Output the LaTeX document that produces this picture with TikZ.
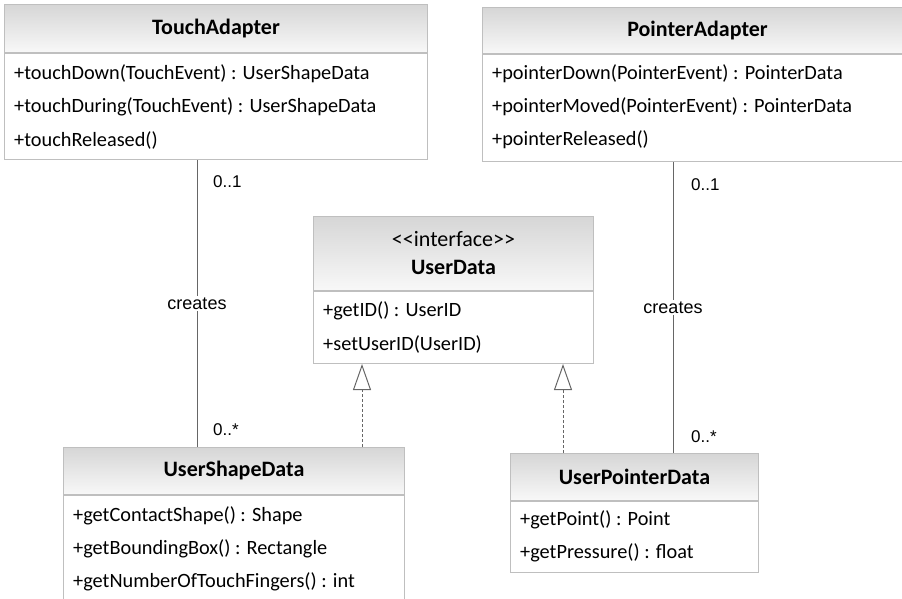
\documentclass[tikz,border=0pt]{standalone}
\usepackage{fontspec}
\setmainfont{Carlito}
\newfontfamily\labelfont{Liberation Sans}
\usetikzlibrary{positioning,arrows.meta,calc}

\definecolor{boxline}{HTML}{BFBFBF}
\definecolor{headtop}{HTML}{D6D6D6}
\definecolor{headbot}{HTML}{F8F8F8}

\tikzset{
  classhead/.style={draw=boxline, line width=1pt, top color=headtop, bottom color=headbot,
    anchor=north west, inner sep=0pt, align=center, font=\bfseries\fontsize{22}{28}\selectfont},
  classbody/.style={draw=boxline, line width=1pt, fill=white, anchor=north west, inner sep=0pt},
  method/.style={anchor=west, inner sep=0pt, font=\fontsize{20.3}{24}\selectfont},
  assoc/.style={draw=black!60, line width=1pt},
  realize/.style={draw=black!60, line width=1pt, dash pattern=on 3pt off 2pt,
    -{Triangle[open,length=26pt,width=18pt,line width=1pt]}},
  mult/.style={anchor=west, inner sep=0pt, font=\labelfont\fontsize{17}{20}\selectfont},
  creates/.style={fill=white, inner sep=2pt, font=\labelfont\fontsize{18}{20}\selectfont},
}

\begin{document}
\begin{tikzpicture}[x=1pt, y=-1pt]
\clip (0,0) rectangle (902,598);

% adapters
\node[classhead, minimum width=423pt, minimum height=48pt] (ta) at (4,4) {TouchAdapter};
\node[classbody, minimum width=423pt, minimum height=106pt] (ta-b) at (ta.south west) {};
\foreach \m [count=\i] in {{+touchDown(TouchEvent) : UserShapeData},
    {+touchDuring(TouchEvent) : UserShapeData}, {+touchReleased()}}
  \node[method] (ta-m\i) at ($(ta-b.north west)+(10,{21+33*(\i-1)})$) {\m};

\node[classhead, minimum width=430pt, minimum height=46pt] (pa) at (482,7) {PointerAdapter};
\node[classbody, minimum width=430pt, minimum height=107pt] (pa-b) at (pa.south west) {};
\foreach \m [count=\i] in {{+pointerDown(PointerEvent) : PointerData},
    {+pointerMoved(PointerEvent) : PointerData}, {+pointerReleased()}}
  \node[method] (pa-m\i) at ($(pa-b.north west)+(10,{20+33*(\i-1)})$) {\m};

% interface
\node[classhead, minimum width=280pt, minimum height=74pt] (ud) at (313,216)
  {{\mdseries <\kern0pt<interface>\kern0pt>}\\UserData};
\node[classbody, minimum width=280pt, minimum height=72pt] (ud-b) at (ud.south west) {};
\foreach \m [count=\i] in {{+getID() : UserID}, {+setUserID(UserID)}}
  \node[method] (ud-m\i) at ($(ud-b.north west)+(10,{20+33*(\i-1)})$) {\m};

% data classes
\node[classhead, minimum width=341pt, minimum height=47pt] (usd) at (63,447) {UserShapeData};
\node[classbody, minimum width=341pt, minimum height=130pt] (usd-b) at (usd.south west) {};
\foreach \m [count=\i] in {{+getContactShape() : Shape}, {+getBoundingBox() : Rectangle},
    {+getNumberOfTouchFingers() : int}}
  \node[method] (usd-m\i) at ($(usd-b.north west)+(10,{21+33*(\i-1)})$) {\m};

\node[classhead, minimum width=248pt, minimum height=47pt] (upd) at (510,453) {UserPointerData};
\node[classbody, minimum width=248pt, minimum height=71pt] (upd-b) at (upd.south west) {};
\foreach \m [count=\i] in {{+getPoint() : Point}, {+getPressure() : float}}
  \node[method] (upd-m\i) at ($(upd-b.north west)+(10,{19+33*(\i-1)})$) {\m};

% associations
\draw[assoc] ($(ta-b.south west)+(193,0)$) coordinate (ta-c)
  -- node[creates] (ta-cr) {creates} (ta-c |- usd.north) coordinate (usd-c);
\node[mult] (ta-n1) at ($(ta-c)+(16,22)$) {0..1};
\node[mult] (usd-n) at ($(usd-c)+(16,-17)$) {0..*};

\draw[assoc] ($(pa-b.south west)+(191,0)$) coordinate (pa-c)
  -- node[creates] (pa-cr) {creates} (pa-c |- upd.north) coordinate (upd-c);
\node[mult] (pa-n1) at ($(pa-c)+(18,23)$) {0..1};
\node[mult] (upd-n) at ($(upd-c)+(18,-16)$) {0..*};

% realizations
\draw[realize] ($(usd.north west)+(299,0)$) coordinate (usd-r) -- (usd-r |- ud-b.south);
\draw[realize] ($(upd.north west)+(53,0)$) coordinate (upd-r) -- (upd-r |- ud-b.south);
\end{tikzpicture}
\end{document}
